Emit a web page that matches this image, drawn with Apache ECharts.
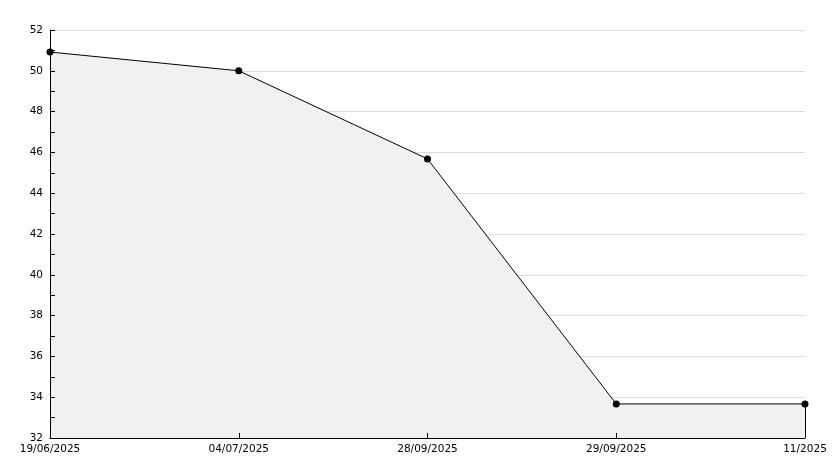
<!DOCTYPE html>
<html><head><meta charset="utf-8">
<script src="https://cdn.jsdelivr.net/npm/echarts@6/dist/echarts.min.js"></script>
<style>html,body{margin:0;padding:0;background:#fff}#c{width:834px;height:468px}</style>
</head><body><div id="c"></div>
<script>
var categories = ['19/06/2025', '04/07/2025', '28/09/2025', '29/09/2025', '11/2025'];
var values = [50.92, 50.0, 45.68, 33.67, 33.67];
var yMin = 32, yMax = 52, yInterval = 2;

var chart = echarts.init(document.getElementById('c'));
var font = 'DejaVu Sans';
chart.setOption({
  animation: false,
  grid: {left: 50, right: 29, top: 30, bottom: 30},
  xAxis: {
    type: 'category', data: categories, boundaryGap: false, zlevel: 2, z: 10,
    axisLine: {lineStyle: {color: '#000', width: 1}},
    axisTick: {inside: true, length: 5, lineStyle: {color: '#000'}},
    axisLabel: {color: '#000', fontFamily: font, fontSize: 10.5, margin: 6, showMaxLabel: true, showMinLabel: true, interval: 0},
    splitLine: {show: false}
  },
  yAxis: [{
    type: 'value', min: yMin, max: yMax, interval: yInterval, zlevel: 0, z: 0,
    axisLine: {show: false}, axisTick: {show: false}, axisLabel: {show: false},
    splitLine: {show: true, lineStyle: {color: '#dcdcdc', width: 1}}
  }, {
    type: 'value', min: yMin, max: yMax, interval: yInterval, zlevel: 2, z: 10, position: 'left',
    axisLine: {show: true, lineStyle: {color: '#000', width: 1}},
    axisTick: {show: true, inside: true, length: 5, lineStyle: {color: '#000'}},
    minorTick: {show: true, splitNumber: 2, length: 5, lineStyle: {color: '#000'}},
    axisLabel: {color: '#000', fontFamily: font, fontSize: 10.5, margin: 7},
    splitLine: {show: false}
  }],
  series: [{
    type: 'line', data: values, zlevel: 1, z: 2, yAxisIndex: 0,
    lineStyle: {color: '#000', width: 1},
    itemStyle: {color: '#000'},
    symbol: 'circle', symbolSize: 7,
    areaStyle: {color: '#f1f1f1', opacity: 1},
    markLine: {
      silent: true, symbol: 'none', label: {show: false},
      lineStyle: {color: '#000', width: 1, type: 'solid'},
      data: [[{coord: [categories.length - 1, values[values.length - 1]]}, {coord: [categories.length - 1, yMin]}]]
    }
  }]
});
</script></body></html>
